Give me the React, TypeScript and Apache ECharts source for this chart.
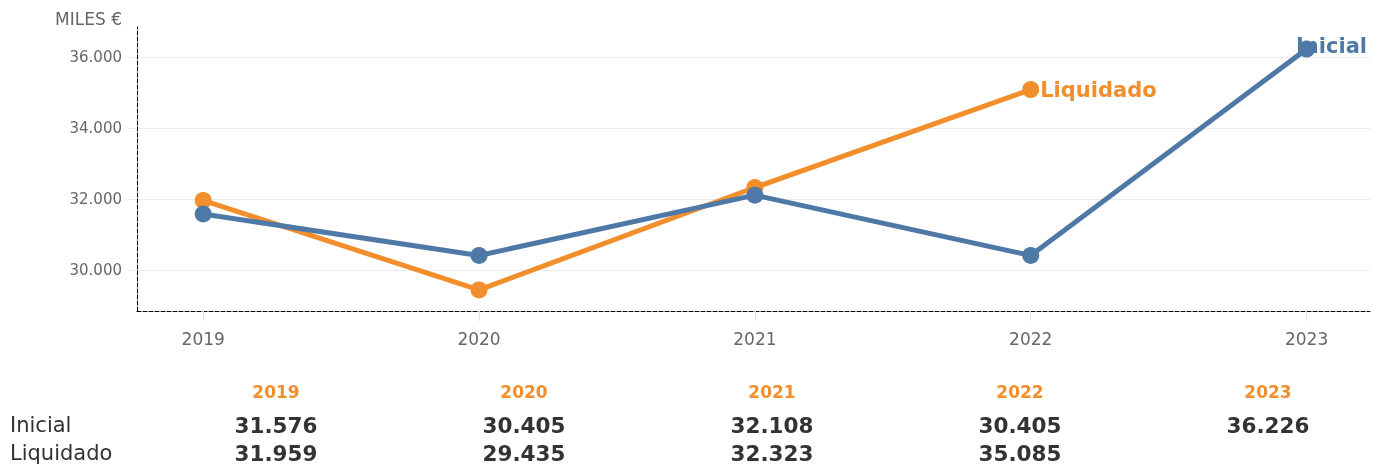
import React, { useEffect, useRef } from 'react';
import * as echarts from 'echarts';

const years = [2019, 2020, 2021, 2022, 2023];
const inicial = [31576, 30405, 32108, 30405, 36226];
const liquidado = [31959, 29435, 32323, 35085];
const yTicks = [30000, 32000, 34000, 36000];
const seriesNames = ['Inicial', 'Liquidado'];
const unitLabel = 'MILES €';

const BLUE = '#4e79a7';
const ORANGE = '#f28e2b';
const FONT = '"DejaVu Sans", Verdana, sans-serif';

const fmt = (v: number) => String(v).replace(/\B(?=(\d{3})+(?!\d))/g, '.');

function buildSeriesData(values: number[], labelCfg: any) {
  return values.map((v, i) => {
    const item: any = { value: [years[i], v] };
    if (i === values.length - 1) item.label = labelCfg;
    return item;
  });
}

export default function App() {
  const ref = useRef<HTMLDivElement>(null);
  useEffect(() => {
    if (!ref.current) return;
    const chart = echarts.init(ref.current, null, { renderer: 'svg' });

    const colX = (i: number) => 276 + i * 248;
    const tableGraphics: any[] = [];
    years.forEach((y, i) => {
      tableGraphics.push({
        type: 'text', x: colX(i), y: 392,
        style: { text: String(y), fill: ORANGE, font: `bold 17px ${FONT}`, align: 'center', verticalAlign: 'middle' },
      });
    });
    const rows = [inicial, liquidado];
    rows.forEach((vals, r) => {
      const ry = 425 + r * 28;
      tableGraphics.push({
        type: 'text', x: 10, y: ry,
        style: { text: seriesNames[r], fill: '#333', font: `21px ${FONT}`, align: 'left', verticalAlign: 'middle' },
      });
      vals.forEach((v, i) => {
        tableGraphics.push({
          type: 'text', x: colX(i), y: ry,
          style: { text: fmt(v), fill: '#333', font: `bold 21.5px ${FONT}`, align: 'center', verticalAlign: 'middle' },
        });
      });
    });

    chart.setOption({
      animation: false,
      textStyle: { fontFamily: FONT },
      grid: { left: 137, right: 14, top: 27, bottom: 155 },
      xAxis: {
        type: 'value',
        min: 2018.76,
        max: 2023.23,
        splitLine: { show: false },
        axisLine: { show: true, lineStyle: { color: '#000', type: [4, 2], width: 1 } },
        axisTick: { show: true, customValues: years, length: 10, lineStyle: { color: '#e6e6e6' } },
        axisLabel: { customValues: years, formatter: (v: number) => String(v), color: '#666', fontSize: 17, margin: 19, fontFamily: FONT },
      },
      yAxis: {
        type: 'value',
        min: 28840,
        max: 36850,
        axisLine: { show: true, lineStyle: { color: '#000', type: [4, 2], width: 1 } },
        axisTick: { show: true, customValues: yTicks, length: 9, lineStyle: { color: '#ebebeb' } },
        axisLabel: { customValues: yTicks, formatter: (v: number) => fmt(v), color: '#666', fontSize: 15, margin: 15, fontFamily: FONT },
        splitLine: { show: true, lineStyle: { color: '#ebebeb', width: 1 } },
      },
      graphic: [
        {
          type: 'text', x: 122, y: 19,
          style: { text: unitLabel, fill: '#666', font: `17px ${FONT}`, align: 'right', verticalAlign: 'middle' },
        },
        ...tableGraphics,
      ],
      series: [
        {
          name: seriesNames[1],
          type: 'line',
          data: buildSeriesData(liquidado, {
            show: true, position: 'right', distance: 1, formatter: seriesNames[1],
            color: ORANGE, fontWeight: 'bold', fontSize: 21, fontFamily: FONT,
          }),
          lineStyle: { color: ORANGE, width: 5 },
          itemStyle: { color: ORANGE },
          symbol: 'circle',
          symbolSize: 17,
          z: 2,
        },
        {
          name: seriesNames[0],
          type: 'line',
          data: buildSeriesData(inicial, {
            show: true, position: 'right', offset: [-24, -3], formatter: seriesNames[0],
            color: BLUE, fontWeight: 'bold', fontSize: 21, fontFamily: FONT,
          }),
          lineStyle: { color: BLUE, width: 5 },
          itemStyle: { color: BLUE },
          symbol: 'circle',
          symbolSize: 17,
          z: 3,
        },
      ],
    });
    return () => chart.dispose();
  }, []);
  return <div ref={ref} style={{ position: 'fixed', left: 0, top: 0, width: 1384, height: 466 }} />;
}
